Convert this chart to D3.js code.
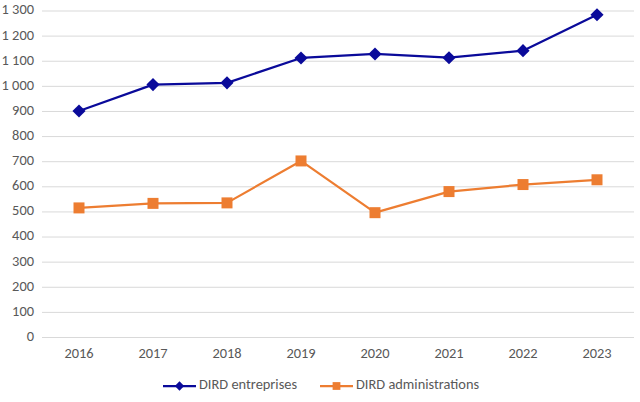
<!DOCTYPE html>
<html>
<head>
<meta charset="utf-8">
<script src="https://cdn.jsdelivr.net/npm/d3@7"></script>
<style>
  body { margin: 0; background: #fff; }
  text { font-family: Carlito, Calibri, Lato, sans-serif; fill: #595959; }
</style>
</head>
<body>
<div id="chart"></div>
<script>
// Data
const years = ['2016', '2017', '2018', '2019', '2020', '2021', '2022', '2023'];
const entreprises = [902, 1007, 1014, 1113, 1129, 1114, 1142, 1285];
const administrations = [516, 534, 536, 703, 497, 581, 609, 628];
const yTicks = [0, 100, 200, 300, 400, 500, 600, 700, 800, 900, 1000, 1100, 1200, 1300];

const width = 640;
const height = 402;
const plotLeft = 42, plotRight = 634, plotTop = 11, plotBottom = 337.5;
const fontSize = '14.4px';

const svg = d3.select('#chart')
    .append('svg')
    .attr('width', width)
    .attr('height', height);

const x = d3.scaleBand().domain(years).range([plotLeft, plotRight]);
const y = d3.scaleLinear().domain([0, 1300]).range([plotBottom, plotTop]);

const fmt = v => d3.format(',')(v).replace(',', ' ');

// Gridlines
svg.append('g')
    .selectAll('line')
    .data(yTicks)
    .join('line')
    .attr('x1', plotLeft)
    .attr('x2', plotRight)
    .attr('y1', d => y(d))
    .attr('y2', d => y(d))
    .attr('stroke', '#d9d9d9')
    .attr('stroke-width', 1);

// Y tick labels
svg.append('g')
    .selectAll('text')
    .data(yTicks)
    .join('text')
    .attr('x', 34)
    .attr('y', d => y(d))
    .attr('text-anchor', 'end')
    .attr('dominant-baseline', 'middle')
    .attr('font-size', fontSize)
    .text(d => fmt(d));

// X tick labels
svg.append('g')
    .selectAll('text')
    .data(years)
    .join('text')
    .attr('x', d => x(d) + x.bandwidth() / 2)
    .attr('y', 355)
    .attr('text-anchor', 'middle')
    .attr('dominant-baseline', 'middle')
    .attr('font-size', fontSize)
    .text(d => d);

const series = [
    { name: 'DIRD entreprises', values: entreprises, color: '#0a0a9a', shape: d3.symbolDiamond2, size: 110, legendX: 163 },
    { name: 'DIRD administrations', values: administrations, color: '#ed7d31', shape: d3.symbolSquare, size: 121, legendX: 320 }
];

const line = d3.line()
    .x((d, i) => x(years[i]) + x.bandwidth() / 2)
    .y(d => y(d));

series.forEach(s => {
    svg.append('path')
        .datum(s.values)
        .attr('d', line)
        .attr('fill', 'none')
        .attr('stroke', s.color)
        .attr('stroke-width', 2.25)
        .attr('stroke-linejoin', 'round');

    svg.append('g')
        .selectAll('path')
        .data(s.values)
        .join('path')
        .attr('transform', (d, i) => `translate(${x(years[i]) + x.bandwidth() / 2}, ${y(d)})`)
        .attr('d', d3.symbol().type(s.shape).size(s.size))
        .attr('fill', s.color);

    // Legend
    const ly = 386;
    svg.append('line')
        .attr('x1', s.legendX)
        .attr('x2', s.legendX + 33)
        .attr('y1', ly)
        .attr('y2', ly)
        .attr('stroke', s.color)
        .attr('stroke-width', 2.25);
    svg.append('path')
        .attr('transform', `translate(${s.legendX + 16.5}, ${ly})`)
        .attr('d', d3.symbol().type(s.shape).size(s.size * 0.5))
        .attr('fill', s.color);
    svg.append('text')
        .attr('x', s.legendX + 36)
        .attr('y', ly)
        .attr('dominant-baseline', 'middle')
        .attr('font-size', fontSize)
        .text(s.name);
});
</script>
</body>
</html>
